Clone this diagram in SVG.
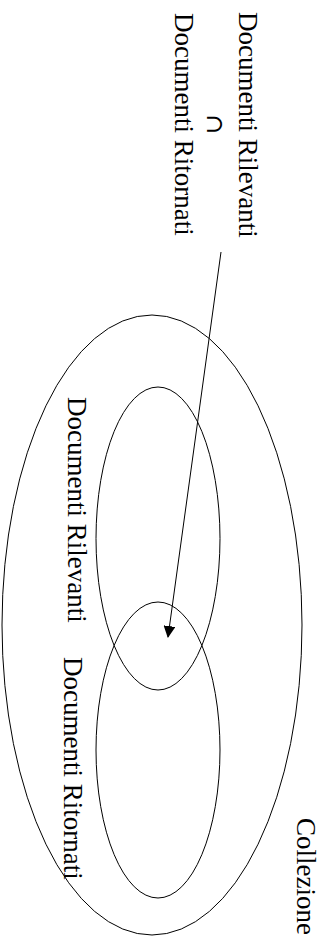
<svg xmlns="http://www.w3.org/2000/svg" width="327" height="936" viewBox="0 0 327 936">
<defs>
<style>
.lbl{font-family:"Liberation Serif","Times New Roman",serif;font-size:27px;fill:#000}
.sym{font-family:"DejaVu Serif","Liberation Serif",serif;font-size:24px;fill:#000}
.shape{fill:none;stroke:#000;stroke-width:1}
</style>
<marker id="ah" viewBox="0 0 12 12" refX="11" refY="6" markerWidth="12" markerHeight="12" markerUnits="userSpaceOnUse" orient="auto">
<path d="M0,0 L12,6 L0,12 Z" fill="#000"/>
</marker>
</defs>
<rect width="327" height="936" fill="#fff"/>
<g id="collezione">
<ellipse class="shape" cx="152" cy="625" rx="150" ry="310"/>
<text class="lbl" transform="translate(297,818) rotate(90)">Collezione</text>
</g>
<g id="rilevanti">
<ellipse class="shape" cx="158" cy="538.5" rx="62" ry="151.5"/>
<text class="lbl" transform="translate(68,397) rotate(90)">Documenti Rilevanti</text>
</g>
<g id="ritornati">
<ellipse class="shape" cx="158" cy="750" rx="62" ry="148"/>
<text class="lbl" transform="translate(64,657) rotate(90)">Documenti Ritornati</text>
</g>
<g id="intersezione">
<text class="lbl" transform="translate(238.5,12) rotate(90)">Documenti Rilevanti</text>
<text class="sym" text-anchor="middle" transform="translate(207,124.5) rotate(90)">∩</text>
<text class="lbl" transform="translate(174.5,13) rotate(90)">Documenti Ritornati</text>
</g>
<g id="connectors">
<line class="shape" x1="221" y1="252" x2="168" y2="637" marker-end="url(#ah)"/>
</g>
</svg>
